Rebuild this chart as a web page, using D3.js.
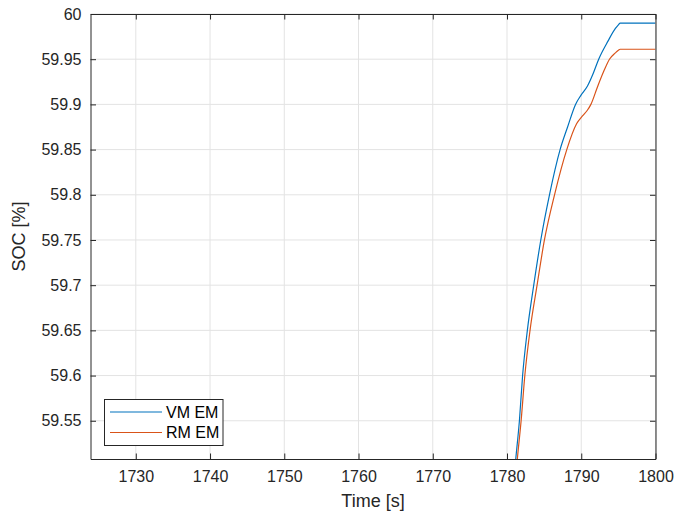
<!DOCTYPE html>
<html>
<head>
<meta charset="utf-8">
<script src="https://cdn.jsdelivr.net/npm/d3@7"></script>
<style>
  body { margin: 0; background: #fff; }
  svg { font-family: "Liberation Sans", Arial, Helvetica, sans-serif; }
</style>
</head>
<body>
<svg width="689" height="517"></svg>
<script>
// axis limits and ticks
const xLimits = [1723.9, 1800];
const yLimits = [59.5077, 60];
const xTicks = [1730, 1740, 1750, 1760, 1770, 1780, 1790, 1800];
const yTicks = [59.55, 59.6, 59.65, 59.7, 59.75, 59.8, 59.85, 59.9, 59.95, 60];

// series
const timeVM = [1780.5, 1781.18, 1781.67, 1782.1, 1782.74, 1783.6, 1784.55, 1785.72, 1787.15, 1788.16, 1789.23, 1789.95, 1790.82, 1791.55, 1792.35, 1793.6, 1794.6, 1795.0, 1795.25, 1800];
const socVM  = [59.44, 59.5077, 59.55, 59.6, 59.65, 59.7, 59.75, 59.8, 59.85, 59.875, 59.9, 59.91, 59.92, 59.933, 59.95, 59.97, 59.984, 59.988, 59.990, 59.990];
const timeRM = [1780.7, 1781.39, 1781.9, 1782.4, 1783.1, 1784.05, 1785.04, 1786.4, 1788.05, 1789.37, 1790.2, 1790.82, 1791.3, 1792.17, 1793.0, 1793.8, 1794.6, 1795.0, 1795.25, 1800];
const socRM  = [59.44, 59.5077, 59.55, 59.6, 59.65, 59.7, 59.75, 59.8, 59.85, 59.8785, 59.8875, 59.8935, 59.9, 59.919, 59.936, 59.95, 59.957, 59.960, 59.961, 59.961];

const series = [
    { name: "VM EM", color: "#0072BD", t: timeVM, v: socVM },
    { name: "RM EM", color: "#D95319", t: timeRM, v: socRM }
];

const svg = d3.select("svg");
const margin = { left: 90.5, top: 14, right: 689 - 655.5, bottom: 517 - 459 };
const w = 689 - margin.left - margin.right;
const h = 517 - margin.top - margin.bottom;

const x = d3.scaleLinear().domain(xLimits).range([0, w]);
const y = d3.scaleLinear().domain(yLimits).range([h, 0]);

const g = svg.append("g").attr("transform", `translate(${margin.left},${margin.top})`);

// grid
g.append("g").selectAll("line").data(xTicks).enter().append("line")
    .attr("x1", d => x(d)).attr("x2", d => x(d))
    .attr("y1", 0).attr("y2", h)
    .attr("stroke", "#e3e3e3").attr("stroke-width", 1);
g.append("g").selectAll("line").data(yTicks).enter().append("line")
    .attr("x1", 0).attr("x2", w)
    .attr("y1", d => y(d)).attr("y2", d => y(d))
    .attr("stroke", "#e3e3e3").attr("stroke-width", 1);

// lines
g.append("clipPath").attr("id", "clip")
    .append("rect").attr("width", w).attr("height", h);

const line = d3.line()
    .x(d => x(d[0]))
    .y(d => y(d[1]))
    .curve(d3.curveMonotoneX);

series.forEach(s => {
    g.append("path")
        .datum(s.t.map((t, i) => [t, s.v[i]]))
        .attr("clip-path", "url(#clip)")
        .attr("fill", "none")
        .attr("stroke", s.color)
        .attr("stroke-width", 1.2)
        .attr("d", line);
});

// axes (inward ticks, box)
const tickLen = 5.5;
const axisColor = "#262626";
const fs = "16px";

const xAxis = g.append("g").attr("transform", `translate(0,${h})`)
    .call(d3.axisBottom(x).tickValues(xTicks).tickSizeInner(-tickLen).tickSizeOuter(0).tickPadding(12).tickFormat(d3.format("d")));
const xAxisTop = g.append("g")
    .call(d3.axisTop(x).tickValues(xTicks).tickSizeInner(-tickLen).tickSizeOuter(0).tickFormat(""));
const yAxis = g.append("g")
    .call(d3.axisLeft(y).tickValues(yTicks).tickSizeInner(-tickLen).tickSizeOuter(0).tickPadding(9).tickFormat(d => d3.format("")(+d.toFixed(2))));
const yAxisRight = g.append("g").attr("transform", `translate(${w},0)`)
    .call(d3.axisRight(y).tickValues(yTicks).tickSizeInner(-tickLen).tickSizeOuter(0).tickFormat(""));

[xAxis, xAxisTop, yAxis, yAxisRight].forEach(a => {
    a.select(".domain").attr("stroke", axisColor).attr("stroke-width", 1);
    a.selectAll(".tick line").attr("stroke", axisColor);
    a.selectAll("text").attr("fill", axisColor).style("font-size", fs).style("font-family", "Liberation Sans, Arial, sans-serif");
});

// axis labels
svg.append("text")
    .attr("x", margin.left + w / 2).attr("y", 507)
    .attr("text-anchor", "middle")
    .attr("fill", axisColor).style("font-size", "18px")
    .text("Time [s]");
svg.append("text")
    .attr("transform", `translate(25,${margin.top + h / 2}) rotate(-90)`)
    .attr("text-anchor", "middle")
    .attr("fill", axisColor).style("font-size", "18px")
    .text("SOC [%]");

// legend
const legend = svg.append("g").attr("transform", "translate(104.5,399.5)");
legend.append("rect")
    .attr("width", 118.5).attr("height", 46)
    .attr("fill", "#fff").attr("stroke", axisColor).attr("stroke-width", 1);
const item = legend.selectAll(".legend").data(series).enter().append("g")
    .attr("class", "legend")
    .attr("transform", (d, i) => `translate(0,${12.5 + i * 20.5})`);
item.append("line")
    .attr("x1", 5.5).attr("x2", 57.5)
    .attr("stroke", d => d.color).attr("stroke-width", 1.2);
item.append("text")
    .attr("x", 61.5).attr("dy", "0.35em")
    .attr("fill", "#000").style("font-size", "16px")
    .text(d => d.name);
</script>
</body>
</html>
